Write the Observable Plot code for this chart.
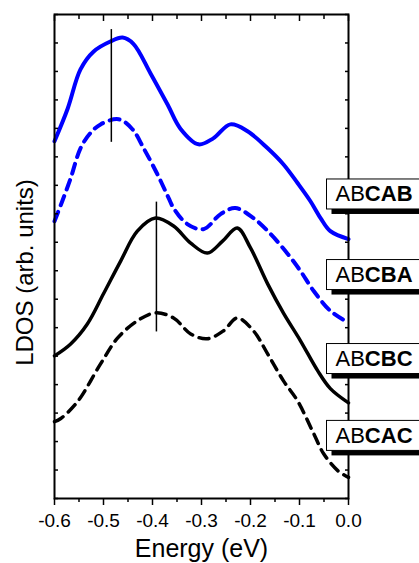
<!DOCTYPE html>
<html><head><meta charset="utf-8">
<script src="https://cdn.jsdelivr.net/npm/d3@7"></script>
<script src="https://cdn.jsdelivr.net/npm/@observablehq/plot@0.6"></script>
<style>body{margin:0;background:#fff}</style>
</head><body><div id="chart"></div>
<script>
// ---- data ----
const xMajor = [-0.6, -0.5, -0.4, -0.3, -0.2, -0.1, 0.0];
const xMinor = [-0.55, -0.45, -0.35, -0.25, -0.15, -0.05];
const yTicks = [0,1,2,3,4,5,6,7,8,9,10,11,12,13,14,15,16,17];

const abcabE = [-0.600,-0.573,-0.547,-0.520,-0.486,-0.461,-0.439,-0.404,-0.369,-0.343,-0.306,-0.276,-0.241,-0.206,-0.165,-0.133,-0.104,-0.078,-0.057,-0.037,0.000];
const abcabV = [12.55,13.70,15.07,15.70,16.05,16.19,15.97,14.93,13.83,12.99,12.44,12.65,13.14,12.90,12.30,11.74,11.08,10.45,9.85,9.39,9.11];

const abcbaE = [-0.600,-0.584,-0.567,-0.547,-0.527,-0.506,-0.469,-0.441,-0.418,-0.390,-0.367,-0.357,-0.329,-0.296,-0.261,-0.231,-0.194,-0.159,-0.124,-0.098,-0.071,-0.037,0.000];
const abcbaV = [9.74,10.45,11.25,12.30,12.83,13.14,13.32,12.97,12.30,11.39,10.55,10.20,9.64,9.46,9.99,10.20,9.85,9.29,8.59,7.99,7.29,6.59,6.17];

const abcbcE = [-0.600,-0.567,-0.533,-0.500,-0.465,-0.431,-0.394,-0.357,-0.322,-0.288,-0.257,-0.227,-0.200,-0.165,-0.133,-0.098,-0.063,-0.037,0.000];
const abcbcV = [5.01,5.43,6.13,7.19,8.34,9.39,9.85,9.57,8.97,8.62,9.04,9.50,8.80,7.54,6.52,5.54,4.49,3.86,3.36];

const abcacE = [-0.600,-0.588,-0.553,-0.506,-0.471,-0.431,-0.394,-0.357,-0.322,-0.288,-0.255,-0.227,-0.194,-0.165,-0.133,-0.104,-0.071,-0.051,-0.022,0.000];
const abcacV = [2.70,2.80,3.40,4.73,5.64,6.24,6.52,6.34,5.78,5.61,5.89,6.34,5.89,5.08,4.14,3.43,2.28,1.58,0.98,0.74];

const markerE = [-0.484, -0.392];
const markerTop = [16.47, 10.41];
const markerBottom = [12.51, 5.85];

const labelNames = ["ABCAB", "ABCBA", "ABCBC", "ABCAC"];
const labelV = [10.68, 7.85, 4.90, 2.20];

const xTitle = "Energy (eV)";
const yTitle = "LDOS (arb. units)";

// ---- build tables ----
const toRows = (E, V) => E.map((e, i) => ({E: e, V: V[i]}));
const rowsAB = toRows(abcabE, abcabV);
const rowsBA = toRows(abcbaE, abcbaV);
const rowsBC = toRows(abcbcE, abcbcV);
const rowsAC = toRows(abcacE, abcacV);
const markers = markerE.map((e, i) => ({E: e, y1: markerBottom[i], y2: markerTop[i]}));
const labels = labelNames.map((n, i) => ({name: n, V: labelV[i]}));

const blue = "#0000ff";
const fmt = d => d.toFixed(1);
const none = () => "";

const chart = Plot.plot({
  width: 419,
  height: 563,
  marginLeft: 54,
  marginRight: 71,
  marginTop: 14,
  marginBottom: 65,
  style: {fontFamily: "'Liberation Sans', Arial, sans-serif", background: "#fff", color: "#000"},
  x: {domain: [-0.6, 0], label: null},
  y: {domain: [0, 17], label: null},
  marks: [
    // curves
    Plot.line(rowsAB, {x: "E", y: "V", curve: "catmull-rom", stroke: blue, strokeWidth: 4}),
    Plot.line(rowsBA, {x: "E", y: "V", curve: "catmull-rom", stroke: blue, strokeWidth: 4, strokeDasharray: "10,7"}),
    Plot.line(rowsBC, {x: "E", y: "V", curve: "catmull-rom", stroke: "#000", strokeWidth: 3.5}),
    Plot.line(rowsAC, {x: "E", y: "V", curve: "catmull-rom", stroke: "#000", strokeWidth: 3.5, strokeDasharray: "10,7"}),
    Plot.ruleX(markers, {x: "E", y1: "y1", y2: "y2", stroke: "#000", strokeWidth: 1.5}),
    // axes
    Plot.axisX({anchor: "bottom", ticks: xMajor, tickSize: 7, tickPadding: 8, tickFormat: fmt, fontSize: 19, strokeWidth: 1.5, label: null}),
    Plot.axisX({anchor: "bottom", ticks: xMinor, tickSize: 4, tickFormat: none, strokeWidth: 1.5, label: null}),
    Plot.axisX({anchor: "top", ticks: xMajor, tickSize: -6, tickFormat: none, strokeWidth: 1.5, label: null}),
    Plot.axisX({anchor: "top", ticks: xMinor, tickSize: -4, tickFormat: none, strokeWidth: 1.5, label: null}),
    Plot.axisY({anchor: "left", ticks: yTicks, tickSize: -4, tickFormat: none, strokeWidth: 1.5, label: null}),
    Plot.axisY({anchor: "right", ticks: yTicks, tickSize: -4, tickFormat: none, strokeWidth: 1.5, label: null}),
    Plot.frame({stroke: "#000", strokeWidth: 2}),
    // titles
    Plot.text([xTitle], {frameAnchor: "bottom", textAnchor: "middle", lineAnchor: "middle", dy: 50, fontSize: 25, fill: "#000"}),
    Plot.text([yTitle], {frameAnchor: "left", textAnchor: "middle", lineAnchor: "middle", dx: -29, dy: 16, rotate: -90, fontSize: 24, fill: "#000"}),
    // boxed labels
    Plot.text(labels, {y: "V", text: "name", frameAnchor: "right", textAnchor: "start", lineAnchor: "middle", dx: -13, fontSize: 22, fill: "#000"})
  ]
});

document.getElementById("chart").appendChild(chart);

// style the boxed labels: "AB" regular + rest bold, white box with black drop shadow
const ns = "http://www.w3.org/2000/svg";
chart.querySelectorAll("text").forEach(t => {
  const name = t.textContent;
  if (!labelNames.includes(name)) return;
  t.textContent = "";
  const a = document.createElementNS(ns, "tspan");
  a.textContent = name.slice(0, 2);
  const b = document.createElementNS(ns, "tspan");
  b.setAttribute("font-weight", "bold");
  b.textContent = name.slice(2);
  t.appendChild(a); t.appendChild(b);
  const bb = t.getBBox();
  const tr = t.getAttribute("transform");
  const x = bb.x - 9, y = bb.y - 2.5, w = bb.width + 19, h = bb.height + 5;
  const shadow = document.createElementNS(ns, "rect");
  shadow.setAttribute("x", x + 5); shadow.setAttribute("y", y + 5);
  shadow.setAttribute("width", w); shadow.setAttribute("height", h);
  shadow.setAttribute("fill", "#000");
  const box = document.createElementNS(ns, "rect");
  box.setAttribute("x", x); box.setAttribute("y", y);
  box.setAttribute("width", w); box.setAttribute("height", h);
  box.setAttribute("fill", "#fff"); box.setAttribute("stroke", "#000"); box.setAttribute("stroke-width", 1);
  if (tr) { shadow.setAttribute("transform", tr); box.setAttribute("transform", tr); }
  t.parentNode.insertBefore(shadow, t);
  t.parentNode.insertBefore(box, t);
});
</script>
</body></html>
